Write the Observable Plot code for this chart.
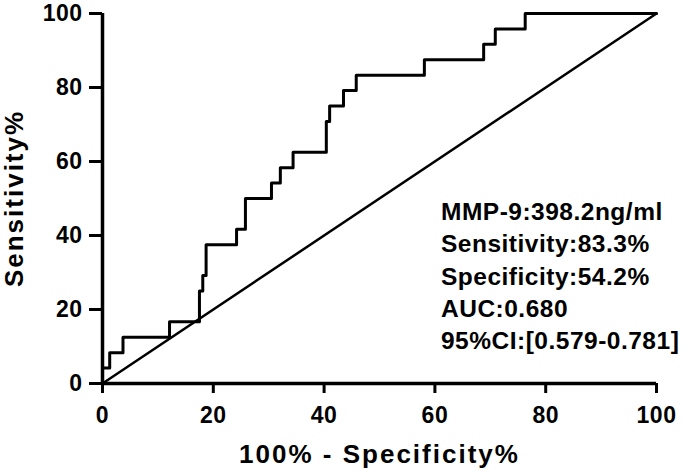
<!DOCTYPE html>
<html>
<head>
<meta charset="utf-8">
<script src="https://cdn.jsdelivr.net/npm/d3@7"></script>
<script src="https://cdn.jsdelivr.net/npm/@observablehq/plot@0.6"></script>
<style>
  html, body { margin: 0; padding: 0; background: #fff; }
</style>
</head>
<body>
<div id="chart"></div>
<script>
// ROC curve vertices (100% - Specificity%, Sensitivity%), drawn as step-after
const fpr = [0, 0, 1.3, 3.7, 12.1, 17.5, 18.1, 18.7, 24.2, 25.8, 30.5, 32.1, 34.4, 40.4, 41.0, 43.5, 45.8, 58.1, 68.8, 70.9, 76.3, 100];
const tpr = [0, 4.17, 8.33, 12.5, 16.67, 25.0, 29.17, 37.5, 41.67, 50.0, 54.17, 58.33, 62.5, 70.83, 75.0, 79.17, 83.33, 87.5, 91.67, 95.83, 100, 100];
// Reference (chance) line
const diagX = [0, 100];
const diagY = [0, 100];
// Tick values
const xTicks = [0, 20, 40, 60, 80, 100];
const yTicks = [0, 20, 40, 60, 80, 100];
// Titles and annotation
const xTitle = "100% - Specificity%";
const yTitle = "Sensitivity%";
const annotationLines = [
  "MMP-9:398.2ng/ml",
  "Sensitivity:83.3%",
  "Specificity:54.2%",
  "AUC:0.680",
  "95%CI:[0.579-0.781]"
];
const annotationX = 61.1;
const annotationTopY = 50.4;

const roc = fpr.map((x, i) => ({x, y: tpr[i]}));
const diag = diagX.map((x, i) => ({x, y: diagY[i]}));

const chart = Plot.plot({
  width: 689,
  height: 472,
  marginLeft: 102,
  marginRight: 33,
  marginTop: 13,
  marginBottom: 89,
  style: {
    fontFamily: "'Liberation Sans', Arial, sans-serif",
    fontSize: "23px",
    fontWeight: "bold",
    color: "black",
    background: "white"
  },
  x: {domain: [0, 100]},
  y: {domain: [0, 100]},
  marks: [
    Plot.axisX({ticks: xTicks, tickSize: 10, tickPadding: 13, strokeWidth: 3, label: null, fontSize: 23}),
    Plot.axisY({ticks: yTicks, tickSize: 13, tickPadding: 7, strokeWidth: 3, label: null, fontSize: 23}),
    Plot.ruleX([0], {stroke: "black", strokeWidth: 3.5}),
    Plot.ruleY([0], {stroke: "black", strokeWidth: 3.5}),
    Plot.line(diag, {x: "x", y: "y", stroke: "black", strokeWidth: 2.5}),
    Plot.line(roc, {x: "x", y: "y", curve: "step-after", stroke: "black", strokeWidth: 3}),
    Plot.text([annotationLines.join("\n")], {
      x: annotationX, y: annotationTopY, text: d => d,
      textAnchor: "start", lineAnchor: "top", lineHeight: 1.32,
      fontSize: 24.5, fontWeight: "bold", fill: "black"
    }),
    Plot.text([xTitle], {
      frameAnchor: "bottom", text: d => d, textAnchor: "middle", lineAnchor: "bottom", dy: 79,
      fontSize: 26, fontWeight: "bold", fill: "black"
    }),
    Plot.text([yTitle], {
      frameAnchor: "left", text: d => d, textAnchor: "middle", lineAnchor: "bottom", rotate: -90, dx: -80,
      fontSize: 26, fontWeight: "bold", fill: "black"
    })
  ]
});

document.getElementById("chart").appendChild(chart);
const svg = d3.select(chart);
svg.selectAll('g[aria-label="x-axis tick label"] text, g[aria-label="y-axis tick label"] text').style("letter-spacing", "0.5px");
svg.selectAll("text").each(function () {
  const t = this.textContent;
  if (t === xTitle || t === yTitle) d3.select(this).style("letter-spacing", "2px");
  else if (t.includes("MMP-9")) d3.select(this).style("letter-spacing", "0.5px");
});
</script>
</body>
</html>
